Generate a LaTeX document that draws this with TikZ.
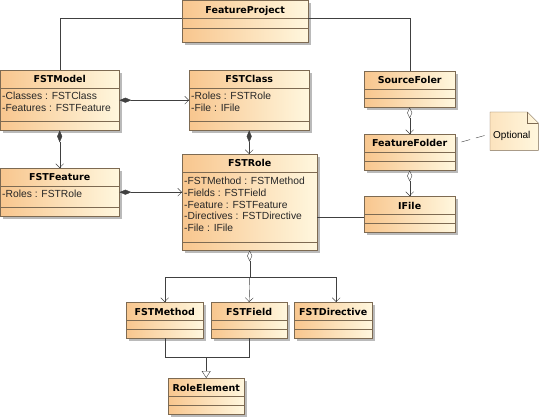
\documentclass[tikz,border=0pt]{standalone}
\usepackage{fontspec}
\setmainfont{Liberation Sans}
\newfontfamily\ttlfont{DejaVu Sans}
\usetikzlibrary{arrows.meta,shadows,backgrounds}

\definecolor{boxline}{HTML}{7D6A52}
\definecolor{boxleft}{HTML}{F8C68E}
\definecolor{boxright}{HTML}{FFF7DE}
\definecolor{wire}{HTML}{404040}

\tikzset{
  cls/.style={anchor=north west, inner sep=0pt, draw=boxline, left color=boxleft, right color=boxright,
    drop shadow={shadow xshift=2.5pt, shadow yshift=-2.5pt, opacity=0.45, fill=black!60}},
  ttl/.style={anchor=base, inner sep=0pt, font=\ttlfont\bfseries\fontsize{9.5}{11}\selectfont},
  attr/.style={anchor=north west, inner sep=0pt, align=left, font=\fontsize{10.3}{11.7}\selectfont, text=black!85},
  sep/.style={draw=boxline},
  link/.style={draw=wire},
  comp/.style={link, {Diamond[length=12pt,width=5pt]}-{Straight Barb[length=4pt,width=8pt]}},
  agg/.style={link, {Diamond[length=11pt,width=5pt,fill=white]}-{Straight Barb[length=4pt,width=8pt]}},
  aggstart/.style={link, {Diamond[length=11pt,width=5pt,fill=white]}-},
  assoc/.style={link, -{Straight Barb[length=4pt,width=8pt]}},
  gen/.style={link, -{Triangle[open,length=7pt,width=9pt,fill=white]}},
  notebox/.style={anchor=north west, inner sep=0pt, minimum width=48pt, minimum height=38pt}
}

\begin{document}
\begin{tikzpicture}[x=1pt,y=-1pt]
\useasboundingbox (0,0) rectangle (541,417);

% classes
\node[cls, minimum width=126pt, minimum height=42pt] (fp) at (182,0) {};
\node[ttl] (fp-t) at ([yshift=-13.5pt]fp.north) {FeatureProject};
\draw[sep] ([yshift=-18pt]fp.north west) -- ([yshift=-18pt]fp.north east)
           ([yshift=-28pt]fp.north west) -- ([yshift=-28pt]fp.north east);

\node[cls, minimum width=119pt, minimum height=60pt] (model) at (0,70) {};
\node[ttl] (model-t) at ([yshift=-13pt]model.north) {FSTModel};
\draw[sep] ([yshift=-18pt]model.north west) -- ([yshift=-18pt]model.north east)
           ([yshift=-51pt]model.north west) -- ([yshift=-51pt]model.north east);
\node[attr] (model-a) at ([xshift=2pt,yshift=-22pt]model.north west) {-Classes : FSTClass\\-Features : FSTFeature};

\node[cls, minimum width=120pt, minimum height=60pt] (fclass) at (189,70) {};
\node[ttl] (fclass-t) at ([yshift=-13pt]fclass.north) {FSTClass};
\draw[sep] ([yshift=-18pt]fclass.north west) -- ([yshift=-18pt]fclass.north east)
           ([yshift=-51pt]fclass.north west) -- ([yshift=-51pt]fclass.north east);
\node[attr] (fclass-a) at ([xshift=2pt,yshift=-22pt]fclass.north west) {-Roles : FSTRole\\-File : IFile};

\node[cls, minimum width=91pt, minimum height=36pt] (src) at (364,71) {};
\node[ttl] (src-t) at ([yshift=-13pt]src.north) {SourceFoler};
\draw[sep] ([yshift=-18pt]src.north west) -- ([yshift=-18pt]src.north east)
           ([yshift=-27pt]src.north west) -- ([yshift=-27pt]src.north east);

\node[cls, minimum width=91pt, minimum height=36pt] (folder) at (364,134) {};
\node[ttl] (folder-t) at ([yshift=-13pt]folder.north) {FeatureFolder};
\draw[sep] ([yshift=-18pt]folder.north west) -- ([yshift=-18pt]folder.north east)
           ([yshift=-27pt]folder.north west) -- ([yshift=-27pt]folder.north east);

\node[cls, minimum width=91pt, minimum height=36pt] (ifile) at (364,196) {};
\node[ttl] (ifile-t) at ([yshift=-13pt]ifile.north) {IFile};
\draw[sep] ([yshift=-18pt]ifile.north west) -- ([yshift=-18pt]ifile.north east)
           ([yshift=-27pt]ifile.north west) -- ([yshift=-27pt]ifile.north east);

\node[cls, minimum width=119pt, minimum height=48pt] (feat) at (0,168) {};
\node[ttl] (feat-t) at ([yshift=-13pt]feat.north) {FSTFeature};
\draw[sep] ([yshift=-18pt]feat.north west) -- ([yshift=-18pt]feat.north east)
           ([yshift=-39pt]feat.north west) -- ([yshift=-39pt]feat.north east);
\node[attr] (feat-a) at ([xshift=2pt,yshift=-22pt]feat.north west) {-Roles : FSTRole};

\node[cls, minimum width=135pt, minimum height=96pt] (role) at (182,154) {};
\node[ttl] (role-t) at ([yshift=-13pt]role.north) {FSTRole};
\draw[sep] ([yshift=-18pt]role.north west) -- ([yshift=-18pt]role.north east)
           ([yshift=-88pt]role.north west) -- ([yshift=-88pt]role.north east);
\node[attr] (role-a) at ([xshift=2pt,yshift=-23pt]role.north west)
  {-FSTMethod : FSTMethod\\-Fields : FSTField\\-Feature : FSTFeature\\-Directives : FSTDirective\\-File : IFile};

\node[cls, minimum width=77pt, minimum height=36pt] (meth) at (126,302) {};
\node[ttl] (meth-t) at ([yshift=-13pt]meth.north) {FSTMethod};
\draw[sep] ([yshift=-18pt]meth.north west) -- ([yshift=-18pt]meth.north east)
           ([yshift=-27pt]meth.north west) -- ([yshift=-27pt]meth.north east);

\node[cls, minimum width=76pt, minimum height=36pt] (field) at (211,302) {};
\node[ttl] (field-t) at ([yshift=-13pt]field.north) {FSTField};
\draw[sep] ([yshift=-18pt]field.north west) -- ([yshift=-18pt]field.north east)
           ([yshift=-27pt]field.north west) -- ([yshift=-27pt]field.north east);

\node[cls, minimum width=78pt, minimum height=36pt] (dir) at (294,302) {};
\node[ttl] (dir-t) at ([yshift=-13pt]dir.north) {FSTDirective};
\draw[sep] ([yshift=-18pt]dir.north west) -- ([yshift=-18pt]dir.north east)
           ([yshift=-27pt]dir.north west) -- ([yshift=-27pt]dir.north east);

\node[cls, minimum width=76pt, minimum height=36pt] (relem) at (168,378) {};
\node[ttl] (relem-t) at ([yshift=-13pt]relem.north) {RoleElement};
\draw[sep] ([yshift=-18pt]relem.north west) -- ([yshift=-18pt]relem.north east)
           ([yshift=-27pt]relem.north west) -- ([yshift=-27pt]relem.north east);

% note
\node[notebox] (opt) at (490,112) {};
\begin{scope}[on background layer]
\shade[draw=boxline, left color=boxright!60!boxleft, right color=boxright]
  (opt.north west) -- ([xshift=-11pt]opt.north east) -- ([yshift=-11pt]opt.north east)
  -- (opt.south east) -- (opt.south west) -- cycle;
\draw[sep] ([xshift=-11pt]opt.north east) -- ([xshift=-11pt,yshift=-11pt]opt.north east) -- ([yshift=-11pt]opt.north east);
\end{scope}
\node[anchor=base west, inner sep=0pt, font=\fontsize{10}{12}\selectfont] (opt-t) at ([xshift=3pt,yshift=-27pt]opt.north west) {Optional};

% connectors
\draw[link] ([yshift=-18pt]fp.north west) -| (model.north);
\draw[link] ([yshift=-18pt]fp.north east) -| (src.north);
\draw[comp] (model.east) -- (model.east -| fclass.west);
\draw[comp] (model.south) -- (model.south |- feat.north);
\draw[comp] (fclass.south) -- (fclass.south |- role.north);
\draw[comp] (feat.east) -- (feat.east -| role.west);
\draw[agg] (src.south) -- (folder.north);
\draw[agg] (folder.south) -- (ifile.north);
\coordinate (ifl) at ([yshift=-21pt]ifile.north west);
\draw[link] (role.east |- ifl) -- (ifl);
\draw[link, dash pattern=on 9pt off 6pt] ([xshift=6pt,yshift=-8pt]folder.north east) -- ([yshift=-22pt]opt.north west);

\coordinate (rj) at ([yshift=-27pt]role.south);
\draw[aggstart] (role.south) -- (rj);
\draw[assoc] (rj) -| (meth.north);
\draw[assoc] (rj) -- (field.north);
\draw[assoc] (rj) -| ([xshift=3pt]dir.north);

\coordinate (gj) at ([yshift=21pt]relem.north);
\draw[link] (meth.south) |- (gj);
\draw[link] (field.south) |- (gj);
\draw[gen] (gj) -- (relem.north);

\end{tikzpicture}
\end{document}
